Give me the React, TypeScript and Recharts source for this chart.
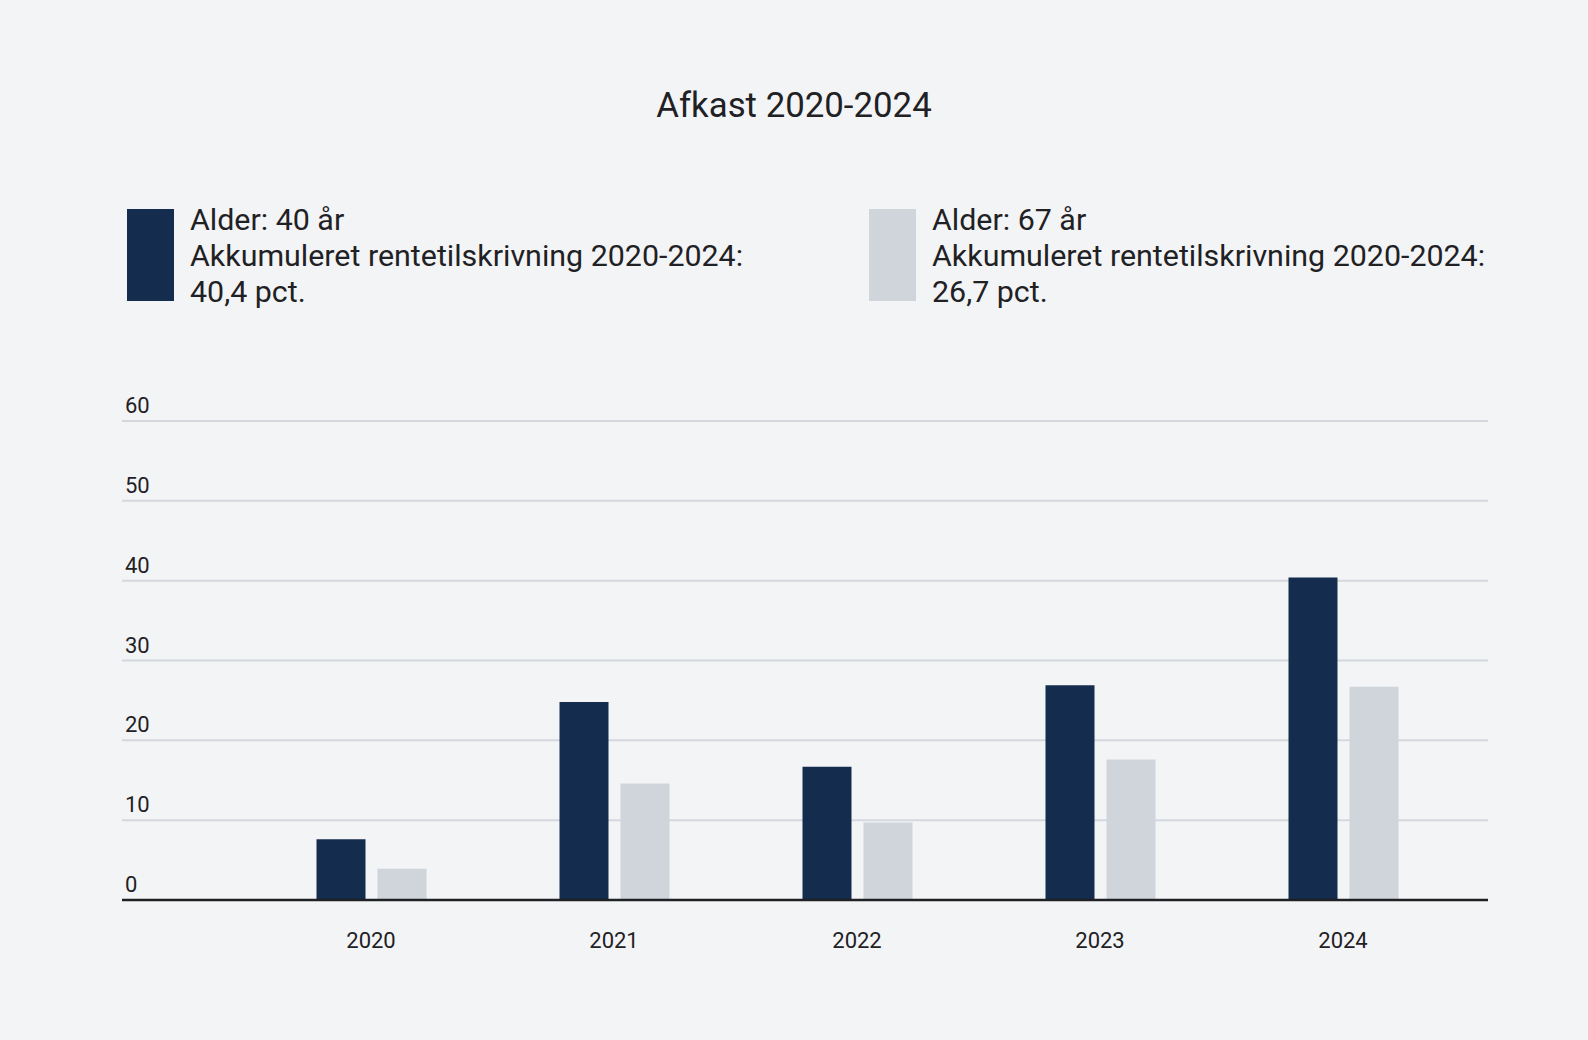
import { BarChart, Bar, XAxis, YAxis, CartesianGrid } from 'recharts'

const FONT = "Roboto, 'Noto Sans', sans-serif"
const BG = '#f3f4f6'
const DARK = '#142d4e'
const LIGHT = '#d0d5dc'
const INK = '#1f2124'

const years = ['2020', '2021', '2022', '2023', '2024']
const age40 = [7.6, 24.8, 16.7, 26.9, 40.4]
const age67 = [3.9, 14.6, 9.7, 17.6, 26.7]
const yTicks = [0, 10, 20, 30, 40, 50, 60]

const legendItems = [
  { color: DARK, lines: ['Alder: 40 år', 'Akkumuleret rentetilskrivning 2020-2024:', '40,4 pct.'] },
  { color: LIGHT, lines: ['Alder: 67 år', 'Akkumuleret rentetilskrivning 2020-2024:', '26,7 pct.'] },
]

const data = years.map((year, i) => ({ year, a40: age40[i], a67: age67[i] }))

const PLOT_LEFT = 122
const Y_AXIS_W = 60
const X_AXIS_H = 60

function YTick({ y, payload }: any) {
  return (
    <text x={PLOT_LEFT + 3} y={y - 8} fill={INK} fontSize={22} fontFamily={FONT} textAnchor="start">
      {payload.value}
    </text>
  )
}

function XTick({ x, payload }: any) {
  // axis line sits at y=900; labels centred 40px below it
  return (
    <text x={x} y={940} fill={INK} fontSize={22} fontFamily={FONT} textAnchor="middle" dominantBaseline="central">
      {payload.value}
    </text>
  )
}

export default function App() {
  return (
    <div style={{ position: 'absolute', left: 0, top: 0, width: 1588, height: 1040, background: BG, fontFamily: FONT, color: INK }}>
      <div style={{
        position: 'absolute',
        top: 84,
        left: 0,
        width: 1588,
        textAlign: 'center',
        fontSize: 34.8,
        lineHeight: '42px',
      }}>
        Afkast 2020-2024
      </div>

      {legendItems.map((item, i) => (
        <div key={i} style={{ position: 'absolute', top: 202, left: i === 0 ? 127 : 869, display: 'flex' }}>
          <div style={{ width: 47, height: 92, background: item.color, marginTop: 7 }} />
          <div style={{ marginLeft: 16, fontSize: 30.4, lineHeight: '36px', whiteSpace: 'nowrap' }}>
            {item.lines.map((l, j) => <div key={j}>{l}</div>)}
          </div>
        </div>
      ))}

      <div style={{ position: 'absolute', left: 0, top: 0 }}>
        <BarChart
          width={1588}
          height={1040}
          data={data}
          margin={{ top: 421, right: 100, bottom: 140 - X_AXIS_H, left: PLOT_LEFT - Y_AXIS_W }}
          barGap={12}
        >
          <CartesianGrid vertical={false} stroke="#d4d8de" strokeWidth={2} />
          <YAxis
            width={Y_AXIS_W}
            domain={[0, 60]}
            ticks={yTicks}
            axisLine={false}
            tickLine={false}
            tick={(props: any) => <YTick {...props} />}
            interval={0}
          />
          <XAxis
            dataKey="year"
            height={X_AXIS_H}
            padding={{ left: 127.5, right: 23.5 }}
            axisLine={{ stroke: INK, strokeWidth: 2.5 }}
            tickLine={false}
            tick={(props: any) => <XTick {...props} />}
            interval={0}
          />
          <Bar dataKey="a40" fill={DARK} barSize={49} isAnimationActive={false} />
          <Bar dataKey="a67" fill={LIGHT} barSize={49} isAnimationActive={false} />
        </BarChart>
      </div>
    </div>
  )
}
